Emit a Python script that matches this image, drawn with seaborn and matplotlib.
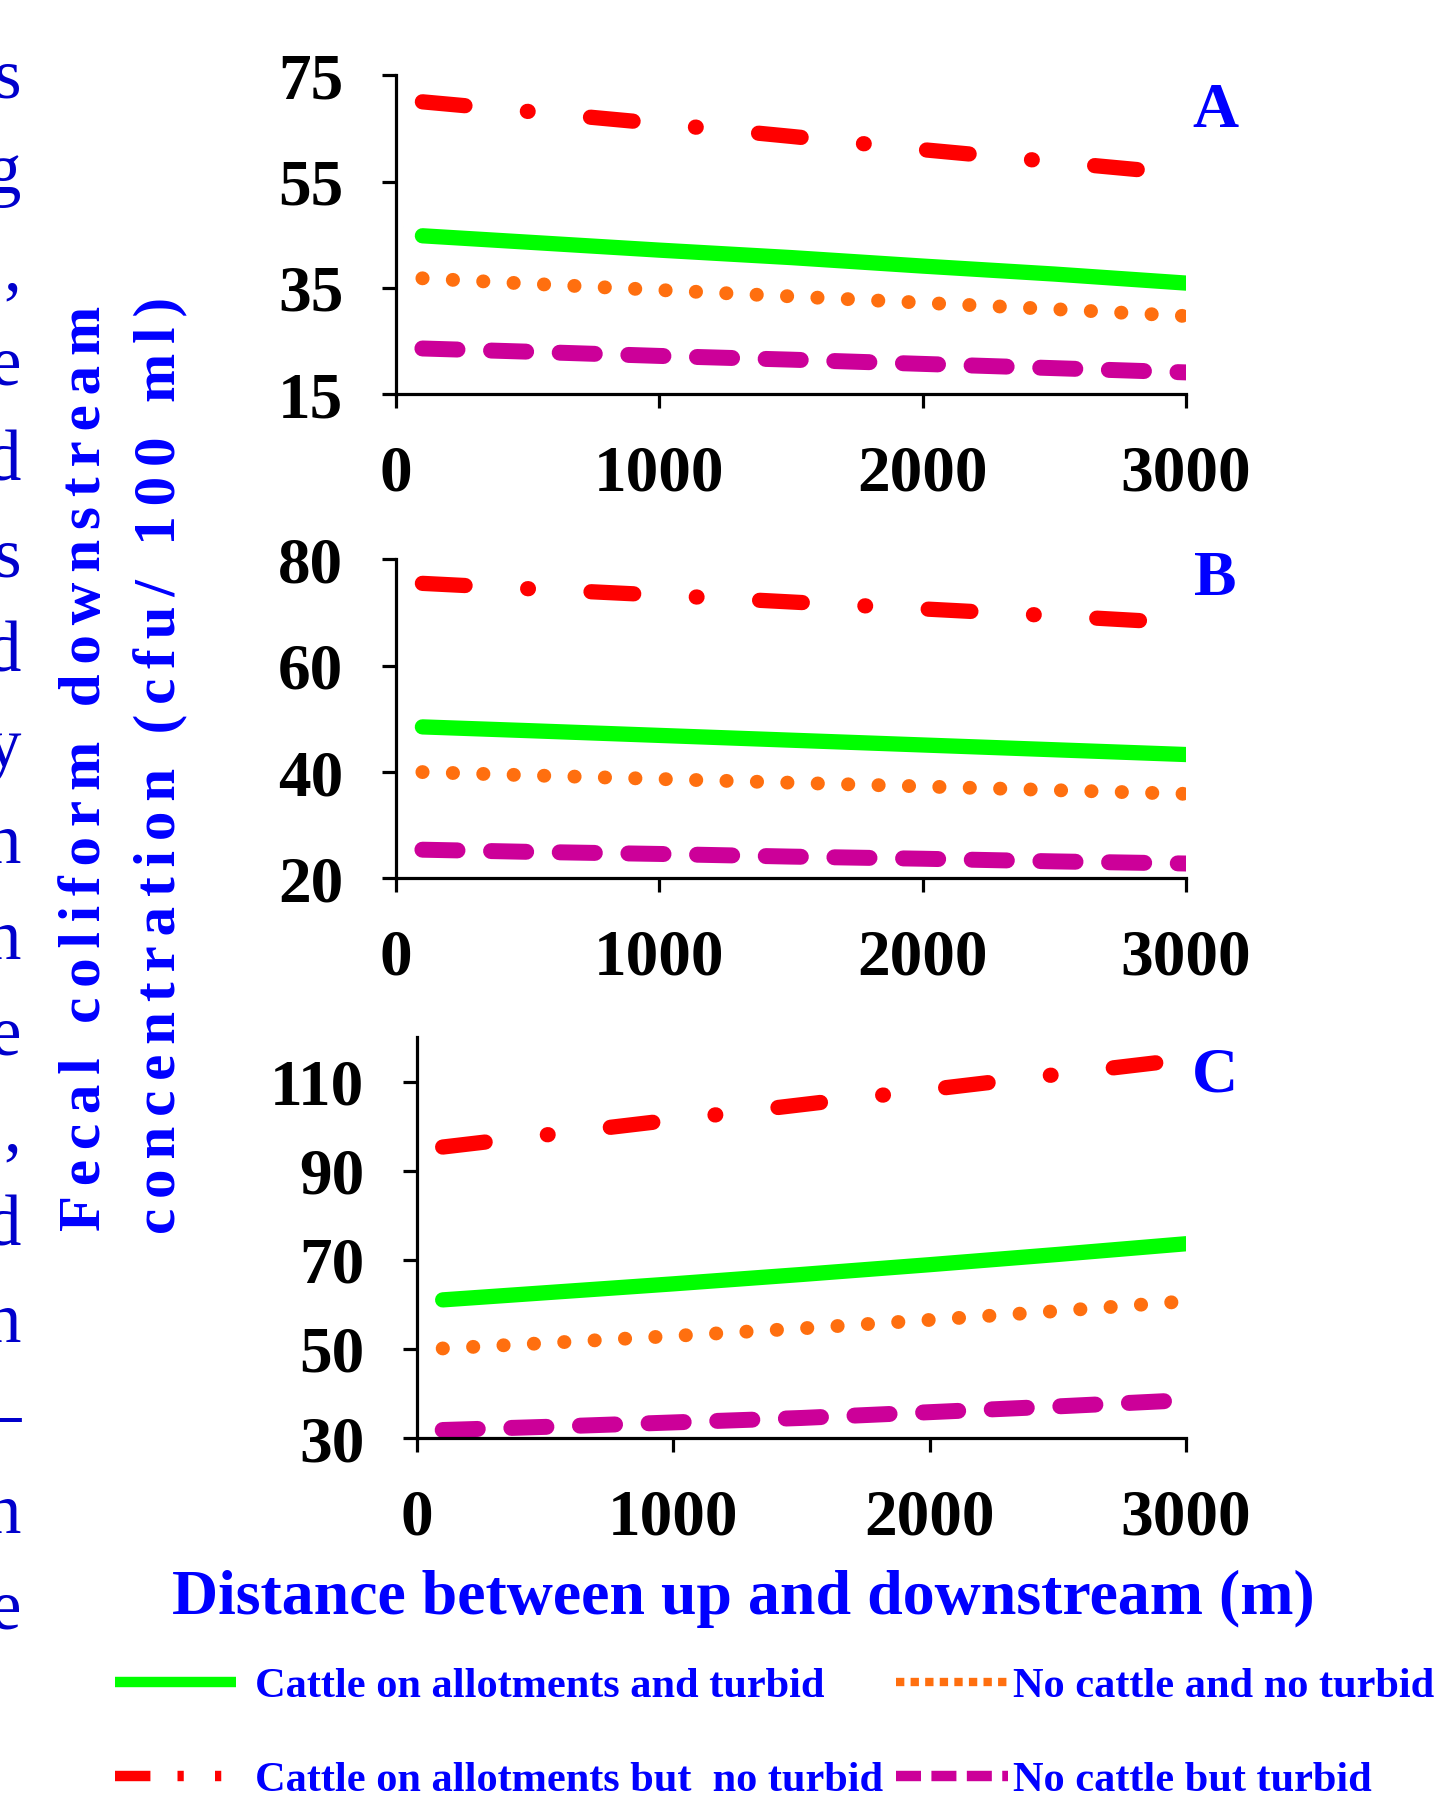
import numpy as np
import pandas as pd
import seaborn as sns
import matplotlib.pyplot as plt
from matplotlib.lines import Line2D

# distance between up and downstream (m)
dist = [100, 500, 1000, 1500, 2000, 2500, 3000]

# panel A
a_green = [44.8, 43.6, 42.1, 40.7, 39.1, 37.6, 35.9]
a_red = [70.0, 68.2, 65.9, 63.5, 61.0, 58.7, 56.4]
a_orange = [36.8, 35.8, 34.6, 33.4, 32.2, 31.0, 29.7]
a_magenta = [23.6, 23.0, 22.2, 21.5, 20.7, 19.9, 19.1]

# panel B
b_green = [48.5, 47.8, 46.9, 46.0, 45.1, 44.2, 43.3]
b_red = [75.5, 74.5, 73.3, 72.0, 70.7, 69.4, 68.0]
b_orange = [40.0, 39.4, 38.7, 38.0, 37.3, 36.6, 35.9]
b_magenta = [25.4, 25.0, 24.6, 24.1, 23.7, 23.2, 22.8]

# panel C
c_green = [61.0, 62.6, 64.6, 66.7, 68.9, 71.2, 73.6]
c_red = [95.3, 98.0, 101.4, 104.8, 108.2, 111.6, 115.0]
c_orange = [50.1, 51.3, 52.9, 54.6, 56.5, 58.5, 60.7]
c_magenta = [31.8, 32.5, 33.5, 34.5, 35.8, 37.1, 38.5]

panel_names = ['A', 'B', 'C']
y_limits = [(15, 75), (20, 80), (30, 120)]
y_ticks = [[15, 35, 55, 75], [20, 40, 60, 80], [30, 50, 70, 90, 110]]
x_ticks = [0, 1000, 2000, 3000]

series_labels = ['Cattle on allotments and turbid',
                 'Cattle on allotments but  no turbid',
                 'No cattle and no turbid',
                 'No cattle but turbid']

# line styles: colour, width, dash pattern (in linewidths)
styles = {
    'Cattle on allotments and turbid': dict(color='#00FF00', lw=11, ls='-'),
    'Cattle on allotments but  no turbid': dict(color='#FF0000', lw=11, ls=(0, (2.8, 4.1, 0.05, 4.1))),
    'No cattle and no turbid': dict(color='#FF6F0F', lw=10, ls=(0, (0.02, 2.17))),
    'No cattle but turbid': dict(color='#CC0099', lw=11.5, ls=(0, (2.2, 2.1))),
}
# legend handle styles (thinner, butt caps)
legend_styles = {
    'Cattle on allotments and turbid': dict(lw=7.5, ls='-'),
    'Cattle on allotments but  no turbid': dict(lw=7.5, ls=(0, (3.4, 2.6, 0.6, 3.0, 0.6, 3.0))),
    'No cattle and no turbid': dict(lw=6, ls=(0, (1.0, 0.75))),
    'No cattle but turbid': dict(lw=7.5, ls=(0, (2.4, 1.0))),
}

panels = [
    [a_green, a_red, a_orange, a_magenta],
    [b_green, b_red, b_orange, b_magenta],
    [c_green, c_red, c_orange, c_magenta],
]

sns.set_theme(style='ticks')
plt.rcParams['font.family'] = ['Liberation Serif', 'DejaVu Serif']
plt.rcParams['font.weight'] = 'bold'

blue = '#0000FF'

fig = plt.figure(figsize=(14.47, 18), dpi=100)
ax_rects = [
    [0.2737, 0.781, 0.546, 0.1772],
    [0.2737, 0.512, 0.546, 0.1772],
    [0.2882, 0.2011, 0.5314, 0.2228],
]

for p, rect in enumerate(ax_rects):
    ax = fig.add_axes(rect)
    for lab, vals in zip(series_labels, panels[p]):
        st = styles[lab]
        sns.lineplot(x=dist, y=vals, ax=ax, color=st['color'], linewidth=st['lw'],
                     linestyle=st['ls'], dash_capstyle='round', solid_capstyle='round',
                     label=lab, legend=False)
    ax.set_xlim(0, 3000)
    ax.set_ylim(*y_limits[p])
    ax.set_xticks(x_ticks)
    ax.set_yticks(y_ticks[p])
    ax.tick_params(axis='both', labelsize=47, length=10, width=2.3, direction='out',
                   colors='black')
    ax.tick_params(axis='x', pad=26)
    ax.tick_params(axis='y', pad=28)
    for t in ax.get_xticklabels() + ax.get_yticklabels():
        t.set_fontweight('bold')
    sns.despine(ax=ax)
    for s in ['left', 'bottom']:
        ax.spines[s].set_linewidth(2.3)
        ax.spines[s].set_color('black')
    ax.set_xlabel('')
    ax.set_ylabel('')
    ax.patch.set_alpha(0)

panel_label_y = [0.938, 0.678, 0.402]
for name, yy in zip(panel_names, panel_label_y):
    fig.text(0.8397, yy, name, color=blue, fontsize=46, fontweight='bold',
             ha='center', va='center')

fig.text(0.514, 0.1117, 'Distance between up and downstream (m)', color=blue,
         fontsize=46, fontweight='bold', ha='center', va='center')

# the axis title in the reference is letter-spaced
def spaced(s):
    return '\u2006'.join(list(s))

fig.text(0.0595, 0.573, spaced('Fecal coliform downstream'), color=blue, fontsize=42.5,
         fontweight='bold', ha='center', va='center', rotation=90)
fig.text(0.111, 0.5745, spaced('concentration (cfu/ 100 ml)'), color=blue, fontsize=42.5,
         fontweight='bold', ha='center', va='center', rotation=90)

# cut-off text from the neighbouring page column
edge_chars = ['s', 'g', ',', 'e', 'd', 's', 'd', 'y', 'n', 'n', 'e', ',', 'd', 'n', '\u2013', 'n', 'e']
for i, ch in enumerate(edge_chars):
    yb = 97.6 + i * 95.7
    fig.text(0.0145, 1 - yb / 1800, ch, color='#0000CC', fontsize=51,
             fontweight='normal', ha='right', va='baseline')

def handle(l):
    return Line2D([], [], color=styles[l]['color'], linewidth=legend_styles[l]['lw'],
                  linestyle=legend_styles[l]['ls'], dash_capstyle='butt',
                  solid_capstyle='butt')

col1 = [series_labels[0], series_labels[1]]
col2 = [series_labels[2], series_labels[3]]
leg_kw = dict(loc='center left', frameon=False, fontsize=30.5,
              labelspacing=1.3, borderpad=0, borderaxespad=0)
leg1 = fig.legend([handle(l) for l in col1], col1, bbox_to_anchor=(0.0795, 0.037),
                  handlelength=2.85, handletextpad=0.45, **leg_kw)
leg2 = fig.legend([handle(l) for l in col2], col2, bbox_to_anchor=(0.619, 0.037),
                  handlelength=2.65, handletextpad=0.12, **leg_kw)
for leg in (leg1, leg2):
    for t in leg.get_texts():
        t.set_color(blue)
        t.set_fontweight('bold')

fig.savefig('out.png', dpi=100)
